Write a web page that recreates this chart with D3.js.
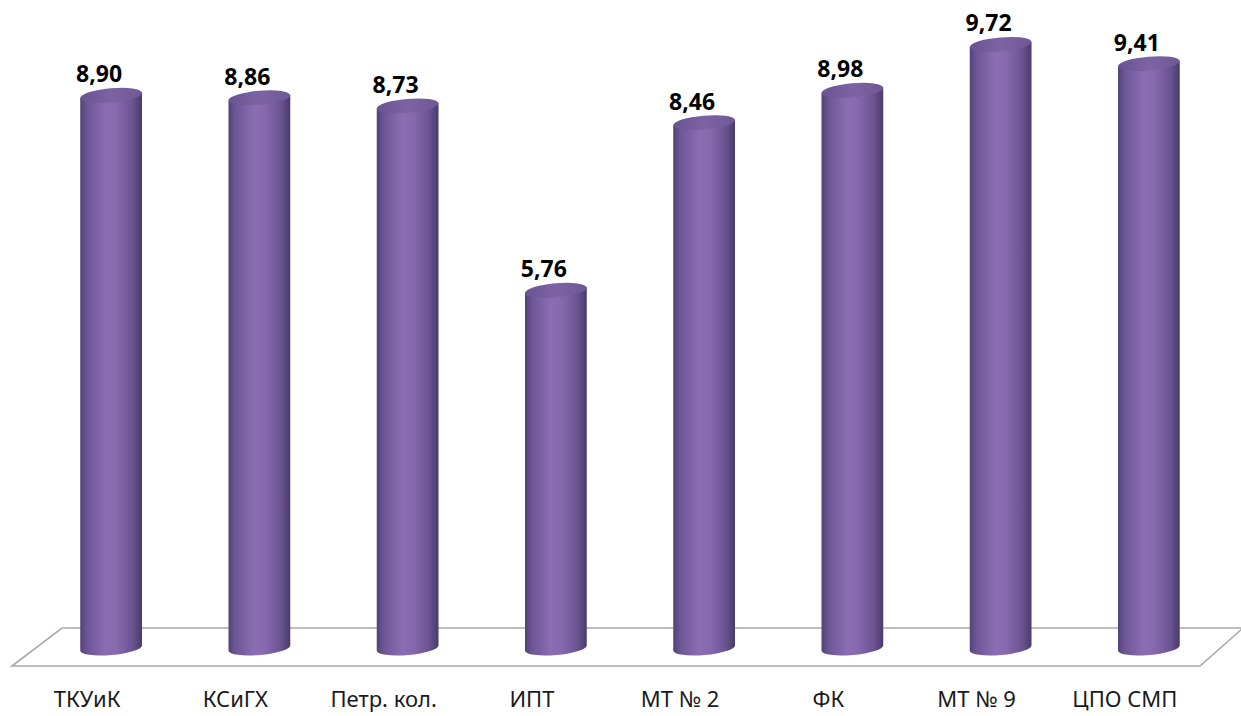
<!DOCTYPE html>
<html><head><meta charset="utf-8">
<script src="https://cdn.jsdelivr.net/npm/d3@7"></script>
<style>html,body{margin:0;padding:0;background:#fff;}svg{display:block;}</style>
</head><body>
<svg id="c" width="1241" height="716"></svg>
<script>
const categories = ["ТКУиК","КСиГХ","Петр. кол.","ИПТ","МТ № 2","ФК","МТ № 9","ЦПО СМП"];
const values = [8.90, 8.86, 8.73, 5.76, 8.46, 8.98, 9.72, 9.41];
const valueLabels = ["8,90","8,86","8,73","5,76","8,46","8,98","9,72","9,41"];

const svg = d3.select("#c");
const x = d3.scaleBand().domain(categories).range([37, 1223]).paddingInner(0.58).paddingOuter(0.29);
const y = d3.scaleLinear().domain([0, 10]).range([648, 27]);

const defs = svg.append("defs");
const g1 = defs.append("linearGradient").attr("id","body").attr("x1","0").attr("x2","1").attr("y1","0").attr("y2","0");
[[0,"#54427a"],[0.12,"#6e5796"],[0.42,"#8b6db3"],[0.6,"#8568ad"],[0.85,"#6a5391"],[1,"#4a3a68"]].forEach(s=>g1.append("stop").attr("offset",s[0]).attr("stop-color",s[1]));
const g2 = defs.append("linearGradient").attr("id","top").attr("x1","0").attr("x2","1").attr("y1","0").attr("y2","0");
[[0,"#6a5392"],[0.5,"#7d63a3"],[1,"#6f5897"]].forEach(s=>g2.append("stop").attr("offset",s[0]).attr("stop-color",s[1]));

// floor
svg.append("path")
  .attr("d","M12,666 L62,628 L1243,628 L1200,666 Z")
  .attr("fill","#fff").attr("stroke","#a9a9a9").attr("stroke-width",1.6);

const r = 31, ry = 7, th = 5*Math.PI/180;
const bars = svg.selectAll("g.bar").data(categories).enter().append("g").attr("class","bar");
bars.each(function(c,i){
  const cx = x(c) + x.bandwidth()/2;
  const yt = y(values[i]), yb = y(0);
  const dx = r*Math.cos(th), dy = r*Math.sin(th);
  const g = d3.select(this);
  const p = `M${cx-dx},${yt+dy} L${cx-dx},${yb+dy} A${r},${ry} -5 0 0 ${cx+dx},${yb-dy} L${cx+dx},${yt-dy} Z`;
  g.append("path").attr("d",p).attr("fill","url(#body)");
  g.append("ellipse").attr("cx",cx).attr("cy",yt).attr("rx",r).attr("ry",ry)
    .attr("transform",`rotate(-5 ${cx} ${yt})`).attr("fill","url(#top)");
  svg.append("text").attr("x",cx-12).attr("y",yt-13).attr("text-anchor","middle")
    .attr("font-family","Noto Sans, sans-serif").attr("font-weight","bold").attr("font-size",23)
    .attr("fill","#000").text(valueLabels[i]);
  svg.append("text").attr("x",cx-24).attr("y",707).attr("text-anchor","middle")
    .attr("font-family","Noto Sans, sans-serif").attr("font-size",22)
    .attr("fill","#1a1a1a").text(c);
});
</script>
</body></html>
